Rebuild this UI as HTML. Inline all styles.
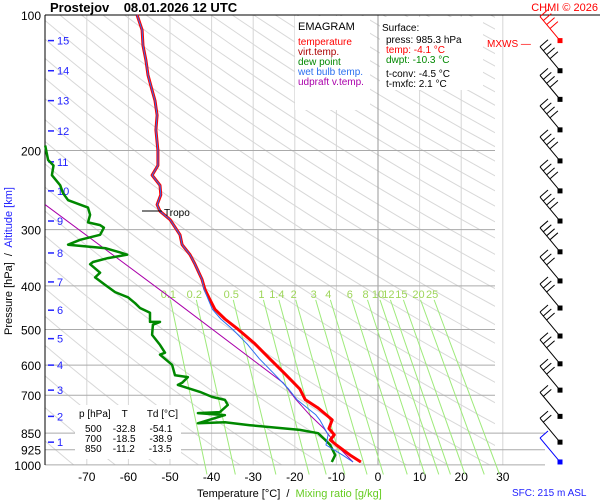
<!DOCTYPE html>
<html><head><meta charset="utf-8"><style>
body{margin:0;background:#fff;}
svg{display:block;font-family:"Liberation Sans",Arial,sans-serif;}
</style></head><body>
<svg id="c" width="600" height="500" viewBox="0 0 600 500">
<g id="grid"></g>
<g id="series"></g>
<g id="ann"></g>
<g>
<text x="50" y="12" font-size="13" font-weight="bold" xml:space="preserve">Prostejov    08.01.2026 12 UTC</text>
<text x="598" y="11" font-size="11" fill="#f00" text-anchor="end">CHMI © 2026</text>
<text x="487" y="47" font-size="10" fill="#f00">MXWS —</text>
<rect x="295" y="16" width="75" height="94" fill="#fff"/>
<text x="298" y="30" font-size="11">EMAGRAM</text>
<text x="298" y="45" font-size="10" fill="#f00">temperature</text>
<text x="298" y="55" font-size="10" fill="#a00">virt.temp.</text>
<text x="298" y="65" font-size="10" fill="#080">dew point</text>
<text x="298" y="75" font-size="10" fill="#2a6ff0">wet bulb temp.</text>
<text x="298" y="85" font-size="10" fill="#a0a">udpraft v.temp.</text>
<rect x="380" y="17" width="103" height="73" fill="#fff"/>
<text x="382" y="31" font-size="10">Surface:</text>
<text x="386" y="43" font-size="10">press: 985.3 hPa</text>
<text x="386" y="53" font-size="10" fill="#f00">temp: -4.1 °C</text>
<text x="386" y="63" font-size="10" fill="#080">dwpt: -10.3 °C</text>
<text x="386" y="77" font-size="10">t-conv: -4.5 °C</text>
<text x="386" y="87" font-size="10">t-mxfc: 2.1 °C</text>
<rect x="75" y="405" width="106" height="54" fill="#fff"/>
<text x="79" y="417" font-size="10" xml:space="preserve">p [hPa]    T       Td [°C]</text>
<text x="85" y="432" font-size="10" xml:space="preserve">500    -32.8     -54.1</text>
<text x="85" y="442" font-size="10" xml:space="preserve">700    -18.5     -38.9</text>
<text x="85" y="452" font-size="10" xml:space="preserve">850    -11.2     -13.5</text>
<text x="197" y="497" font-size="11" xml:space="preserve">Temperature [°C]  /  <tspan fill="#66cc22">Mixing ratio [g/kg]</tspan></text>
<text x="512" y="496" font-size="10" fill="#22f">SFC: 215 m ASL</text>
<text transform="translate(12,335) rotate(-90)" font-size="11" xml:space="preserve">Pressure [hPa]  /  <tspan fill="#22f">Altitude [km]</tspan></text>
</g>
</svg>
<script>
// ---- data ----
const tempP=[100,108,117,126,136,147,155,167,180,200,216,227,239,251,264,273,285,308,324,341,358,387,407,429,451,474,499,538,581,627,678,716,746,773,794,830,857,880,903,951,985];
const tempT=[-57.9,-56.7,-56.5,-55.8,-55.3,-54.3,-53.6,-53.1,-53.4,-52.9,-52.9,-54.3,-52.4,-52.2,-53.1,-52.4,-50,-47.6,-47.1,-45.2,-44,-42.3,-41.6,-40.4,-39.2,-36.8,-33.7,-29.6,-26,-22.4,-18.8,-17.5,-14.5,-12.5,-11,-11.8,-10.5,-11.5,-10,-6.7,-4.1];
const wbP=[100,108,117,126,136,147,155,167,180,200,216,227,239,251,264,273,285,308,324,341,358,387,407,429,451,474,499,538,581,627,678,716,773,794,857,903,951,985];
const wbT=[-57.9,-56.7,-56.5,-55.8,-55.3,-54.3,-53.6,-53.1,-53.4,-52.9,-52.9,-54.3,-52.4,-52.2,-53.1,-52.4,-50,-47.6,-47.1,-45.2,-44,-42.3,-41.8,-40.8,-39.8,-37.8,-35,-31.5,-28.5,-25,-21.5,-19.5,-15,-14,-12,-12.5,-8.5,-6];
const dewP=[195,210,216,227,239,249,258,268,278,289,293,297,308,316,324,330,337,341,347,354,358,374,383,398,413,424,437,448,459,481,481,488,514,541,563,569,599,632,638,657,664,688,706,717,736,763,767,775,808,804,816,836,850,880,903,951,985];
const dewT=[-80,-79.3,-78,-78.4,-76.4,-75.7,-74.5,-69.7,-69.2,-69.7,-66.8,-65.9,-66.8,-71.6,-74.5,-65.4,-62,-60.3,-64.9,-68.5,-69.2,-66.8,-68,-65.6,-63.2,-60.1,-58.4,-57.2,-54.8,-54.8,-52.4,-54.1,-54.3,-52.4,-51.2,-52.4,-49.5,-48.8,-45.7,-47.1,-48.1,-42.8,-39.9,-36.8,-36.1,-38,-43.3,-36.8,-43.3,-36.8,-30.8,-18.8,-14.4,-12.7,-11.5,-10.3,-11.1];
const updP=[264,424,657,716,773,830,903,985];
const updT=[-80,-50,-22.8,-19.7,-16.5,-13,-10,-6];
const pTicks=[100,200,300,400,500,600,700,850,925,1000];
const tTicks=[-70,-60,-50,-40,-30,-20,-10,0,10,20,30];
const kmLabels=[1,2,3,4,5,6,7,8,9,10,11,12,13,14,15];
const kmP=[890,780,682,600,524,453,392,338,287,246,212,181,155,133,114];
const mixW=[0.1,0.2,0.5,1,1.4,2,3,4,6,8,10,12,15,20,25];
const windP=[114,133,154,180,211,246,287,336,390,448,517,596,682,780,890,985];
const windSpd=[70,55,45,45,45,45,35,40,30,30,25,30,25,20,20,10];
// ---- axes ----
const L=45,R=495,T0=15;
const y=p=>15+195.4*Math.log(p/100);
const x=t=>378+4.16*t;
const NS="http://www.w3.org/2000/svg";
function mk(tag,par,at){const e=document.createElementNS(NS,tag);for(const k in at)e.setAttribute(k,at[k]);par.appendChild(e);return e;}
const G=document.getElementById('grid'),S=document.getElementById('series'),A=document.getElementById('ann');
const defs=mk('defs',document.getElementById('c'),{});
const cp=mk('clipPath',defs,{id:'clip'});mk('rect',cp,{x:L,y:T0,width:R-L,height:450});
const ad=mk('g',G,{'clip-path':'url(#clip)'});


for(let th=200;th<=620;th+=10){let d='';for(let p=100;p<=1000;p+=20){const t=th*Math.pow(p/1000,0.286)-273.15;d+=(d?'L':'M')+x(t).toFixed(1)+','+y(p).toFixed(1);}
 mk('path',ad,{d:d,fill:'none',stroke:'#d8d8d8','stroke-width':1});}
tTicks.forEach(t=>{const l=mk('line',G,{x1:x(t),x2:x(t),y1:T0,y2:465,stroke:t===0?'#999':'#d6d6d6','stroke-width':1});
 
 const tx=mk('text',G,{x:x(t),y:481,'font-size':12,'text-anchor':'middle',fill:'#000'});tx.textContent=t;
 });
pTicks.forEach(p=>{const l=mk('line',G,{x1:L,x2:p===100?600:(p>=850?545:R),y1:y(p),y2:y(p),stroke:p===100?'#000':'#aaa','stroke-width':1});
 
 const tx=mk('text',G,{x:41,y:y(p)+5,'font-size':12,'text-anchor':'end'});tx.textContent=p;
 });
mk('line',G,{x1:L,x2:L,y1:T0,y2:465,stroke:'#000','stroke-width':1});
const mg=mk('g',G,{});


mixW.forEach(w=>{const td=p=>{const e=w*p/(622+w);const a=Math.log(e/6.112);return 243.5*a/(17.67-a);};
 mk('line',mg,{x1:x(td(400)),y1:y(400)+14,x2:x(td(1050)),y2:y(1050),stroke:'#9eea7a','stroke-width':1});
 const tx=mk('text',mg,{x:x(td(400))-2,y:y(400)+12,'font-size':11,'text-anchor':'middle',fill:'#9ed65a'});tx.textContent=w;
 });
kmLabels.forEach((k,i)=>{mk('line',G,{x1:48,x2:54,y1:y(kmP[i]),y2:y(kmP[i]),stroke:'#22f','stroke-width':1.5});
 const tx=mk('text',G,{x:57,y:y(kmP[i])+4,'font-size':11,fill:'#22f'});tx.textContent=k;
 });
function line(P,Tt,col,w,name){let d='';P.forEach((p,i)=>{d+=(i?'L':'M')+x(Tt[i]).toFixed(1)+','+y(p).toFixed(1);});
 const e=mk('path',S,{d:d,fill:'none',stroke:col,'stroke-width':w,'stroke-linejoin':'round'});
 }
line(updP,updT,'#a0a','1','updraft-line');
line(dewP,dewT,'#080','2.5','dewpoint-line');
line(tempP,tempT,'#f00','3','temperature-line');
line(wbP,wbT,'#2a6ff0','1','wet-bulb-line');
mk('line',A,{x1:142,x2:162,y1:211,y2:211,stroke:'#000'});
const tr=mk('text',A,{x:164,y:216,'font-size':10});tr.textContent='Tropo';

windP.forEach((p,i)=>{const yy=y(p),xx=560;const col=i===windP.length-1?'#00f':(i===0?'#f00':'#000');
 const g=mk('g',A,{stroke:col,'stroke-width':1,fill:'none'});
 
 const ex=xx-20,ey=yy-24;mk('line',g,{x1:xx,y1:yy,x2:ex,y2:ey});
 const n=Math.round(windSpd[i]/10);for(let k=0;k<Math.min(n,4);k++){const bx=ex+k*3.3,by=ey+k*4;mk('line',g,{x1:bx,y1:by,x2:bx+8,y2:by-7});}
 mk('rect',g,{x:xx-2,y:yy-2,width:4,height:4,fill:col});});
</script>
</body></html>
